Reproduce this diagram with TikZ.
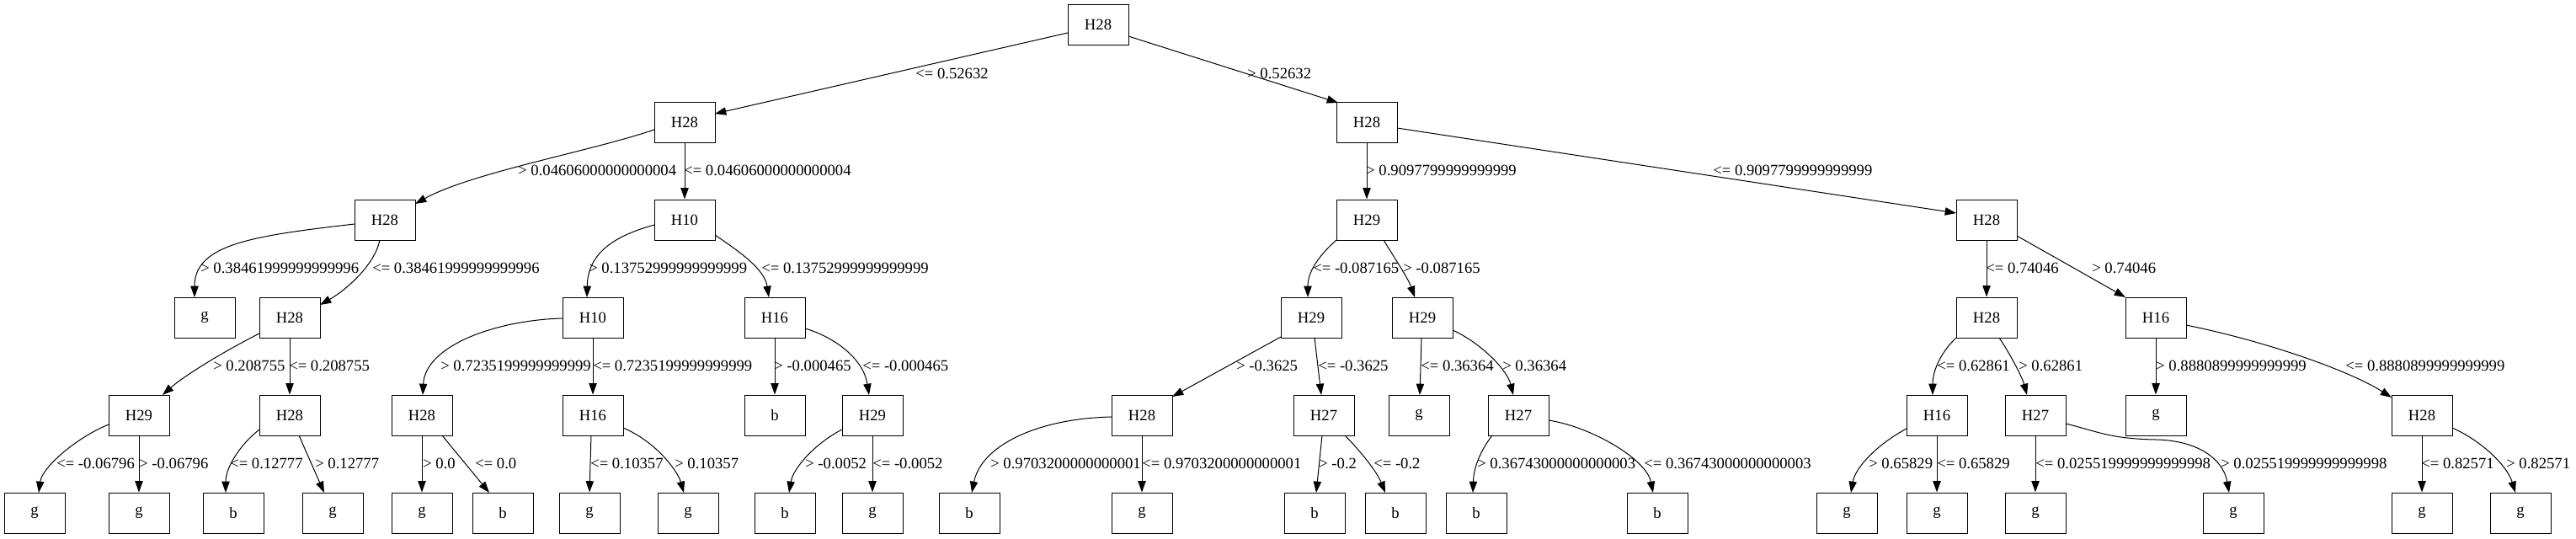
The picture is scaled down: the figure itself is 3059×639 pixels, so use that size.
\documentclass[tikz,border=0pt]{standalone}
\usepackage{fontspec}
\setmainfont{Liberation Serif}
\usetikzlibrary{arrows.meta,calc}
\tikzset{
  box/.style={draw, rectangle, minimum width=54pt, minimum height=36pt, inner sep=0pt, line width=0.75pt, font=\fontsize{14}{16}\selectfont},
  edge/.style={line width=0.75pt, -{Triangle[length=10pt,width=7pt]}},
  lbl/.style={anchor=west, inner sep=0pt, font=\fontsize{14}{16}\selectfont}
}
\begin{document}
\begin{tikzpicture}[x=0.75pt,y=-0.75pt]
\useasboundingbox (0,0) rectangle (3059,639);
% level 0-2
\node[box] (r) at (1304,29) {H28};
\node[box] (a) at (813,145) {H28};
\node[box] (b) at (1623,145) {H28};
\node[box] (a1) at (457,261) {H28};
\node[box] (a2) at (813,261) {H10};
\node[box] (b1) at (1623,261) {H29};
\node[box] (b2) at (2359,261) {H28};
% level 3
\node[box] (n3a) at (243,377) {g};
\node[box] (n3b) at (344,377) {H28};
\node[box] (n3c) at (704,377) {H10};
\node[box] (n3d) at (920,377) {H16};
\node[box] (n3e) at (1557,377) {H29};
\node[box] (n3f) at (1689,377) {H29};
\node[box] (n3g) at (2359,377) {H28};
\node[box] (n3h) at (2560,377) {H16};
% level 4
\node[box] (n4a) at (165,493) {H29};
\node[box] (n4b) at (344,493) {H28};
\node[box] (n4c) at (501,493) {H28};
\node[box] (n4d) at (704,493) {H16};
\node[box] (n4e) at (920,493) {b};
\node[box] (n4f) at (1036,493) {H29};
\node[box] (n4g) at (1356,493) {H28};
\node[box] (n4h) at (1572,493) {H27};
\node[box] (n4i) at (1685,493) {g};
\node[box] (n4j) at (1803,493) {H27};
\node[box] (n4k) at (2300,493) {H16};
\node[box] (n4l) at (2417,493) {H27};
\node[box] (n4m) at (2560,493) {g};
\node[box] (n4n) at (2876,493) {H28};
% level 5
\node[box] (n5a) at (41,609) {g};
\node[box] (n5b) at (165,609) {g};
\node[box] (n5c) at (277,609) {b};
\node[box] (n5d) at (395,609) {g};
\node[box] (n5e) at (501,609) {g};
\node[box] (n5f) at (597,609) {b};
\node[box] (n5g) at (700,609) {g};
\node[box] (n5h) at (817,609) {g};
\node[box] (n5i) at (932,609) {b};
\node[box] (n5j) at (1036,609) {g};
\node[box] (n5k) at (1151,609) {b};
\node[box] (n5l) at (1356,609) {g};
\node[box] (n5m) at (1561,609) {b};
\node[box] (n5n) at (1657,609) {b};
\node[box] (n5o) at (1753,609) {b};
\node[box] (n5p) at (1968,609) {b};
\node[box] (n5q) at (2193,609) {g};
\node[box] (n5r) at (2300,609) {g};
\node[box] (n5s) at (2417,609) {g};
\node[box] (n5t) at (2652,609) {g};
\node[box] (n5u) at (2876,609) {g};
\node[box] (n5v) at (2993,609) {g};
\coordinate (m48) at (2560,522);

% edges level 0-1
\draw[edge] ($(r)+(-36,10)$) -- ($(a)+(36,-10)$);
\draw[edge] ($(r)+(36,14)$) -- ($(b)+(-34,-23)$);
% level 1-2
\draw[edge] ($(a)+(-36,9)$) .. controls (700,180) and (560,205) .. ($(a1)+(36,-19)$);
\draw[edge] (a.south) -- (a2.north);
\draw[edge] (b.south) -- (b1.north);
\draw[edge] ($(b)+(36,7)$) -- ($(b2)+(-36,-8)$);
% level 2-3
\draw[edge] ($(a1)+(-36,5)$) .. controls (300,280) and (231,290) .. ($(n3a)+(-12,-24)$);
\draw[edge] ($(a1)+(-6,24)$) .. controls (445,315) and (410,345) .. ($(n3b)+(36,-15)$);
\draw[edge] ($(a2)+(-36,6)$) .. controls (730,280) and (698,300) .. ($(n3c)+(-7,-24)$);
\draw[edge] ($(a2)+(36,18)$) .. controls (880,300) and (908,320) .. ($(n3d)+(-7,-24)$);
\draw[edge] ($(b1)+(-36,24)$) .. controls (1570,300) and (1553,320) .. ($(n3e)+(-4,-24)$);
\draw[edge] ($(b1)+(20,24)$) .. controls (1655,305) and (1672,330) .. ($(n3f)+(-9,-24)$);
\draw[edge] (b2.south) -- (n3g.north);
\draw[edge] ($(b2)+(36,19)$) -- ($(n3h)+(-36,-24)$);
% level 3-4
\draw[edge] ($(n3b)+(-36,19)$) .. controls (270,415) and (220,445) .. ($(n4a)+(28,-24)$);
\draw[edge] (n3b.south) -- (n4b.north);
\draw[edge] ($(n3c)+(-36,1)$) .. controls (590,380) and (505,410) .. ($(n4c)+(1,-24)$);
\draw[edge] (n3c.south) -- (n4d.north);
\draw[edge] (n3d.south) -- (n4e.north);
\draw[edge] ($(n3d)+(36,13)$) .. controls (990,400) and (1025,425) .. ($(n4f)+(-4,-24)$);
\draw[edge] ($(n3e)+(-36,23)$) -- ($(n4g)+(36,-22)$);
\draw[edge] ($(n3e)+(4,24)$) -- ($(n4h)+(-3,-24)$);
\draw[edge] ($(n3f)+(-1,24)$) -- ($(n4i)+(1,-24)$);
\draw[edge] ($(n3f)+(36,15)$) .. controls (1760,408) and (1790,440) .. ($(n4j)+(-6,-24)$);
\draw[edge] ($(n3g)+(-36,24)$) .. controls (2305,418) and (2295,440) .. ($(n4k)+(-5,-24)$);
\draw[edge] ($(n3g)+(15,24)$) .. controls (2390,425) and (2402,450) .. ($(n4l)+(-10,-24)$);
\draw[edge] (n3h.south) -- (n4m.north);
\draw[edge] ($(n3h)+(36,9)$) .. controls (2690,405) and (2790,440) .. ($(n4n)+(-36,-21)$);
% level 4-5
\draw[edge] ($(n4a)+(-36,11)$) .. controls (90,520) and (50,555) .. ($(n5a)+(5,-24)$);
\draw[edge] (n4a.south) -- (n5b.north);
\draw[edge] ($(n4b)+(-36,17)$) .. controls (285,528) and (268,555) .. ($(n5c)+(-9,-24)$);
\draw[edge] ($(n4b)+(11,24)$) -- ($(n5d)+(-10,-24)$);
\draw[edge] (n4c.south) -- (n5e.north);
\draw[edge] ($(n4c)+(24,24)$) -- ($(n5f)+(-16,-24)$);
\draw[edge] ($(n4d)+(-2,24)$) -- (n5g.north);
\draw[edge] ($(n4d)+(36,15)$) .. controls (780,525) and (805,560) .. ($(n5h)+(-5,-24)$);
\draw[edge] ($(n4f)+(-36,17)$) .. controls (970,525) and (942,555) .. ($(n5i)+(5,-24)$);
\draw[edge] (n4f.south) -- (n5j.north);
\draw[edge] ($(n4g)+(-36,2)$) .. controls (1230,497) and (1165,530) .. ($(n5k)+(3,-24)$);
\draw[edge] (n4g.south) -- (n5l.north);
\draw[edge] ($(n4h)+(-2,24)$) -- ($(n5m)+(2,-24)$);
\draw[edge] ($(n4h)+(25,24)$) .. controls (1615,535) and (1635,560) .. ($(n5n)+(-12,-24)$);
\draw[edge] ($(n4j)+(-31,24)$) .. controls (1758,535) and (1750,555) .. ($(n5o)+(-4,-24)$);
\draw[edge] ($(n4j)+(36,6)$) .. controls (1890,507) and (1955,545) .. ($(n5p)+(-5,-24)$);
\draw[edge] ($(n4k)+(-36,16)$) .. controls (2230,527) and (2203,555) .. ($(n5q)+(5,-24)$);
\draw[edge] (n4k.south) -- (n5r.north);
\draw[edge] (n4l.south) -- (n5s.north);
\draw[edge] ($(n4l)+(36,10)$) .. controls (2490,512) and (2505,521) .. (m48) .. controls (2610,523) and (2640,545) .. ($(n5t)+(-5,-24)$);
\draw[edge] (n4n.south) -- (n5u.north);
\draw[edge] ($(n4n)+(36,15)$) .. controls (2950,525) and (2978,555) .. ($(n5v)+(-6,-24)$);

% labels
\node[lbl] (t1) at (1087,87) {<= 0.52632};
\node[lbl] (t2) at (1481,87) {> 0.52632};
\node[lbl] (t3) at (615,202) {> 0.04606000000000004};
\node[lbl] (t4) at (812,202) {<= 0.04606000000000004};
\node[lbl] (t5) at (1622,202) {> 0.9097799999999999};
\node[lbl] (t6) at (2034,202) {<= 0.9097799999999999};
\node[lbl] (t7) at (238,318) {> 0.38461999999999996};
\node[lbl] (t8) at (442,318) {<= 0.38461999999999996};
\node[lbl] (t9) at (699,318) {> 0.13752999999999999};
\node[lbl] (t10) at (904,318) {<= 0.13752999999999999};
\node[lbl] (t11) at (1559,318) {<= -0.087165};
\node[lbl] (t12) at (1666,318) {> -0.087165};
\node[lbl] (t13) at (2358,318) {<= 0.74046};
\node[lbl] (t14) at (2484,318) {> 0.74046};
\node[lbl] (t15) at (253,434) {> 0.208755};
\node[lbl] (t16) at (343,434) {<= 0.208755};
\node[lbl] (t17) at (523,434) {> 0.7235199999999999};
\node[lbl] (t18) at (704,434) {<= 0.7235199999999999};
\node[lbl] (t19) at (919,434) {> -0.000465};
\node[lbl] (t20) at (1024,434) {<= -0.000465};
\node[lbl] (t21) at (1468,434) {> -0.3625};
\node[lbl] (t22) at (1565,434) {<= -0.3625};
\node[lbl] (t23) at (1687,434) {<= 0.36364};
\node[lbl] (t24) at (1784,434) {> 0.36364};
\node[lbl] (t25) at (2300,434) {<= 0.62861};
\node[lbl] (t26) at (2397,434) {> 0.62861};
\node[lbl] (t27) at (2560,434) {> 0.8880899999999999};
\node[lbl] (t28) at (2785,434) {<= 0.8880899999999999};
\node[lbl] (t29) at (67,550) {<= -0.06796};
\node[lbl] (t30) at (165,550) {> -0.06796};
\node[lbl] (t31) at (273,550) {<= 0.12777};
\node[lbl] (t32) at (374,550) {> 0.12777};
\node[lbl] (t33) at (502,550) {> 0.0};
\node[lbl] (t34) at (564,550) {<= 0.0};
\node[lbl] (t35) at (701,550) {<= 0.10357};
\node[lbl] (t36) at (801,550) {> 0.10357};
\node[lbl] (t37) at (956,550) {> -0.0052};
\node[lbl] (t38) at (1036,550) {<= -0.0052};
\node[lbl] (t39) at (1176,550) {> 0.9703200000000001};
\node[lbl] (t40) at (1356,550) {<= 0.9703200000000001};
\node[lbl] (t41) at (1566,550) {> -0.2};
\node[lbl] (t42) at (1631,550) {<= -0.2};
\node[lbl] (t43) at (1754,550) {> 0.36743000000000003};
\node[lbl] (t44) at (1952,550) {<= 0.36743000000000003};
\node[lbl] (t45) at (2219,550) {> 0.65829};
\node[lbl] (t46) at (2300,550) {<= 0.65829};
\node[lbl] (t47) at (2417,550) {<= 0.025519999999999998};
\node[lbl] (t48) at (2637,550) {> 0.025519999999999998};
\node[lbl] (t49) at (2875,550) {<= 0.82571};
\node[lbl] (t50) at (2976,550) {> 0.82571};
\end{tikzpicture}
\end{document}
